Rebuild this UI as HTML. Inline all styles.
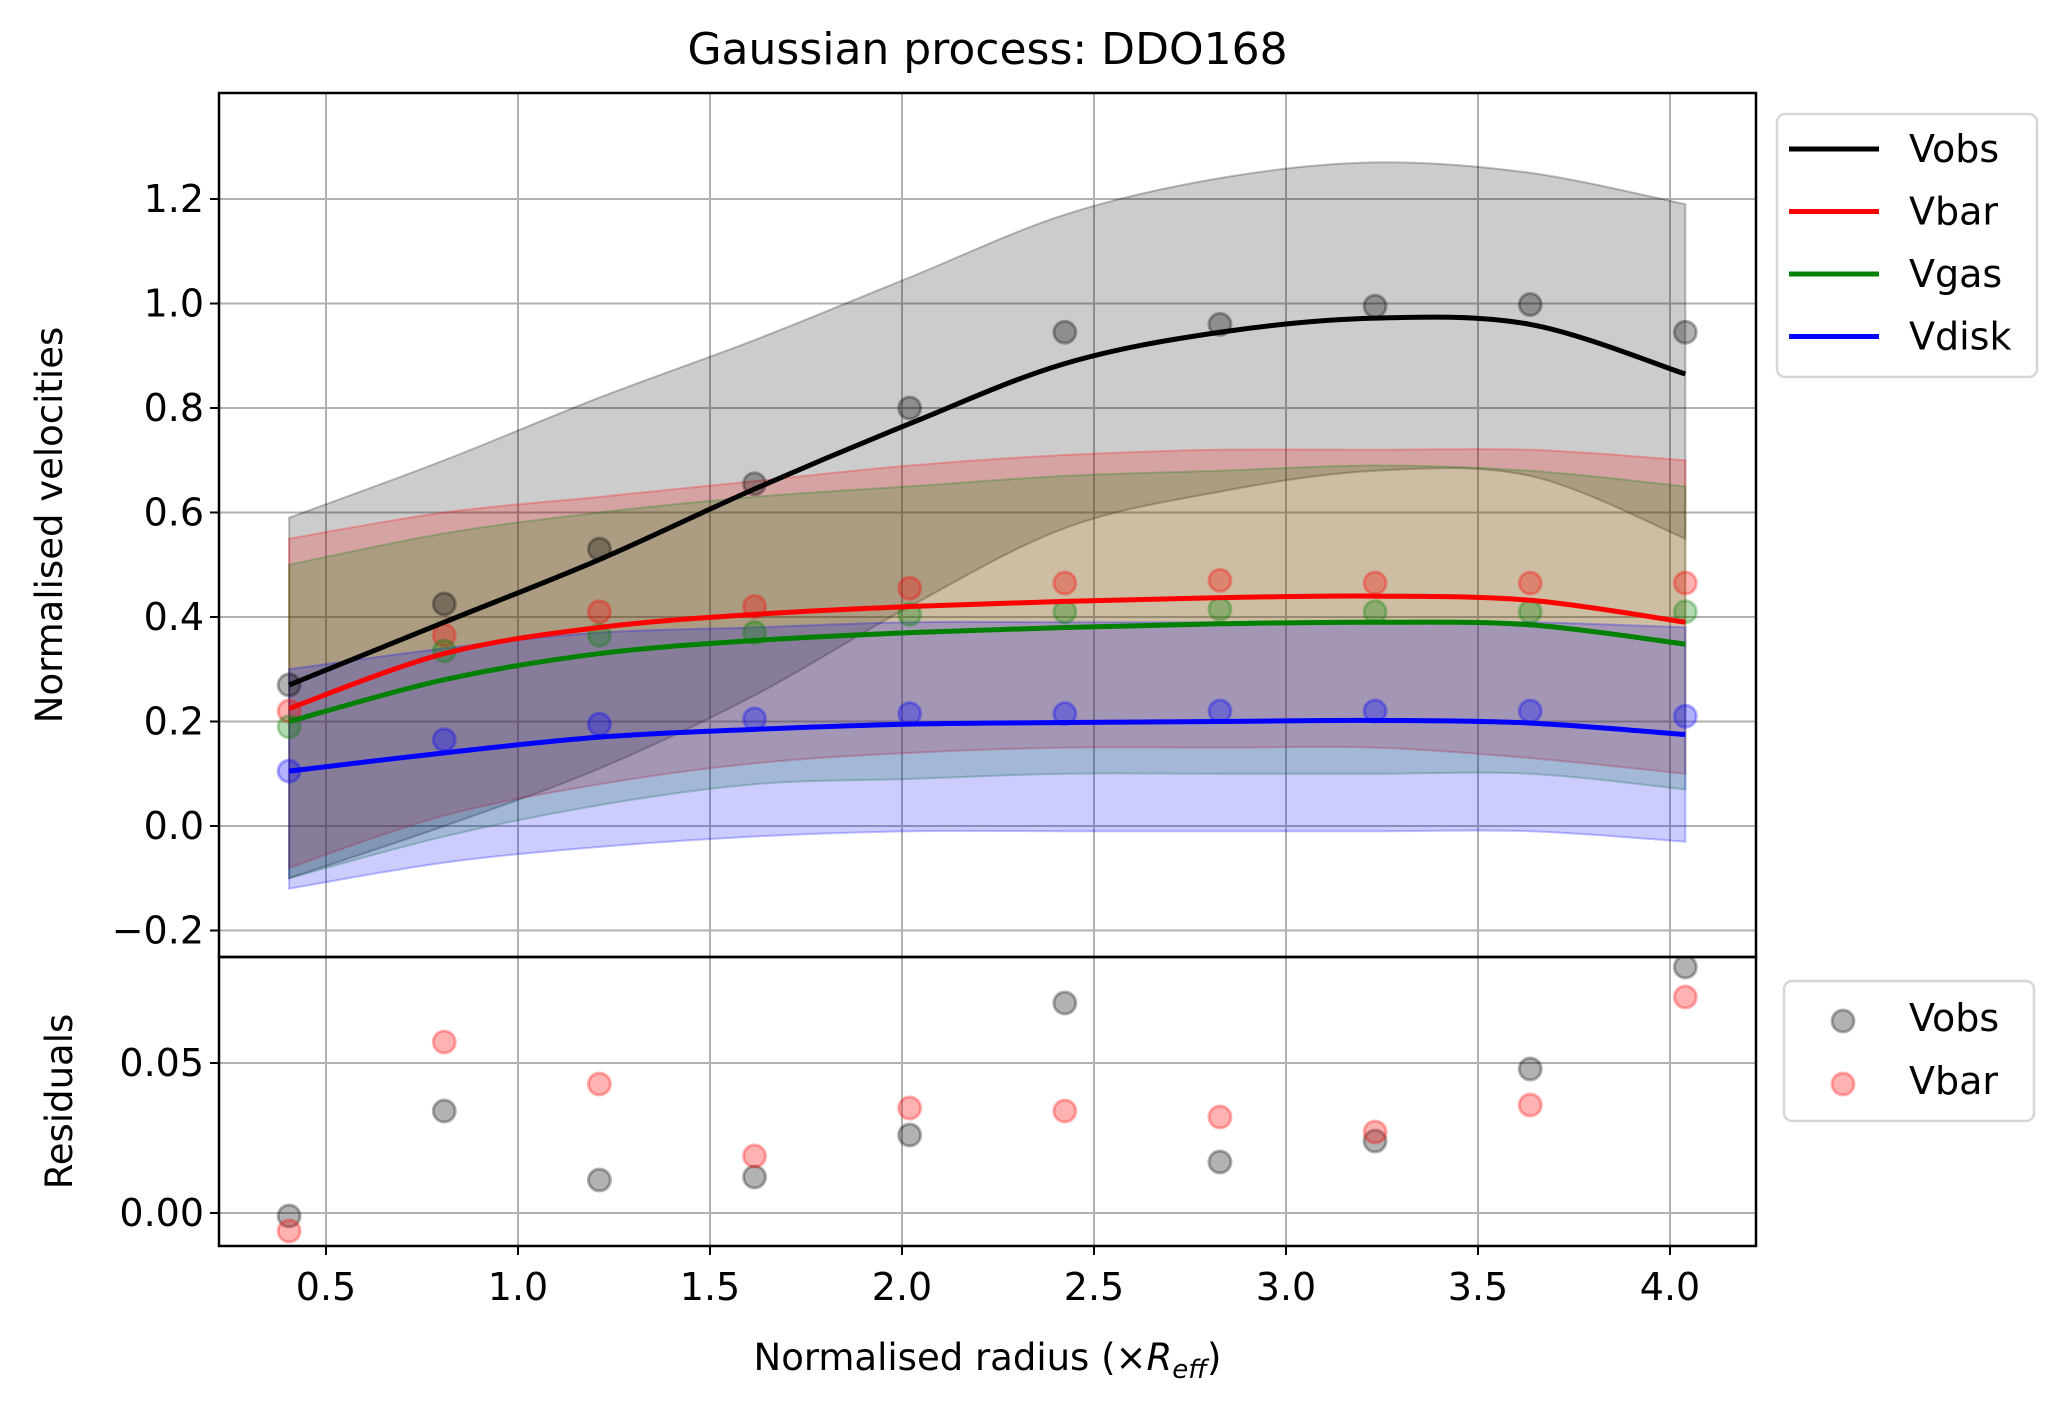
<!DOCTYPE html>
<html><head><meta charset="utf-8"><style>
body{margin:0;background:#fff}
svg text{font-family:"DejaVu Sans","Liberation Sans",sans-serif;fill:#000}
</style></head><body>
<svg id="c" width="2067" height="1406" xmlns="http://www.w3.org/2000/svg"></svg>
<script>
const xs=[0.404,0.808,1.212,1.616,2.02,2.424,2.828,3.232,3.636,4.04];
const obsPts=[0.27,0.425,0.53,0.655,0.80,0.945,0.96,0.995,0.998,0.945];
const barPts=[0.22,0.365,0.41,0.42,0.455,0.465,0.47,0.465,0.465,0.465];
const gasPts=[0.19,0.335,0.365,0.37,0.405,0.41,0.415,0.41,0.41,0.41];
const diskPts=[0.105,0.165,0.195,0.205,0.215,0.215,0.22,0.22,0.22,0.21];
const obsFit=[0.27,0.39,0.51,0.645,0.77,0.885,0.945,0.972,0.96,0.865];
const barFit=[0.225,0.33,0.38,0.405,0.42,0.43,0.437,0.44,0.432,0.39];
const gasFit=[0.2,0.28,0.33,0.355,0.37,0.38,0.387,0.39,0.385,0.348];
const diskFit=[0.105,0.14,0.17,0.185,0.195,0.198,0.2,0.202,0.197,0.175];
const obsHi=[0.59,0.70,0.82,0.93,1.05,1.17,1.24,1.27,1.25,1.19];
const obsLo=[-0.1,0.0,0.11,0.25,0.42,0.57,0.64,0.68,0.67,0.55];
const barHi=[0.55,0.6,0.63,0.66,0.69,0.71,0.72,0.72,0.72,0.70];
const barLo=[-0.08,0.02,0.08,0.12,0.14,0.15,0.15,0.15,0.13,0.10];
const gasHi=[0.5,0.56,0.6,0.63,0.65,0.67,0.68,0.69,0.68,0.65];
const gasLo=[-0.1,-0.02,0.04,0.08,0.09,0.1,0.1,0.1,0.1,0.07];
const diskHi=[0.3,0.34,0.37,0.38,0.39,0.39,0.39,0.39,0.39,0.38];
const diskLo=[-0.12,-0.07,-0.04,-0.02,-0.01,-0.01,-0.01,-0.01,-0.01,-0.03];
const resObs=[-0.001,0.034,0.011,0.012,0.026,0.070,0.017,0.024,0.048,0.082];
const resBar=[-0.006,0.057,0.043,0.019,0.035,0.034,0.032,0.027,0.036,0.072];
const xTicks=[0.5,1.0,1.5,2.0,2.5,3.0,3.5,4.0];
const yTicks=[-0.2,0.0,0.2,0.4,0.6,0.8,1.0,1.2];
const rTicks=[0.00,0.05];

const L=219,R=1756,T=93,M=957,B=1246;
const X=v=>326+(v-0.5)*384;
const Y=v=>826-v*522.5;
const RY=v=>1213-v*3000;
const svg=document.getElementById('c');
const NS='http://www.w3.org/2000/svg';
function mk(tag,attrs,parent){const e=document.createElementNS(NS,tag);for(const k in attrs)e.setAttribute(k,attrs[k]);(parent||svg).appendChild(e);return e;}
function txt(s,x,y,size,anchor,parent){const t=mk('text',{x:x,y:y,'font-size':size,'text-anchor':anchor||'middle'},parent);t.textContent=s;return t;}
function smooth(pts){let d='M'+pts[0][0]+','+pts[0][1];for(let i=0;i<pts.length-1;i++){const p0=pts[i-1]||pts[i],p1=pts[i],p2=pts[i+1],p3=pts[i+2]||p2;d+=' C'+(p1[0]+(p2[0]-p0[0])/6)+','+(p1[1]+(p2[1]-p0[1])/6)+' '+(p2[0]-(p3[0]-p1[0])/6)+','+(p2[1]-(p3[1]-p1[1])/6)+' '+p2[0]+','+p2[1];}return d;}

const defs=mk('defs',{});
const cp=mk('clipPath',{id:'mc'},defs);mk('rect',{x:L,y:T,width:R-L,height:M-T},cp);
const cp2=mk('clipPath',{id:'rc'},defs);mk('rect',{x:L,y:M,width:R-L,height:B-M},cp2);

const g=mk('g',{});


xTicks.forEach(v=>{mk('line',{x1:X(v),x2:X(v),y1:T,y2:M,stroke:'#b0b0b0','stroke-width':2},g);mk('line',{x1:X(v),x2:X(v),y1:M,y2:B,stroke:'#b0b0b0','stroke-width':2},g);});
yTicks.forEach(v=>mk('line',{x1:L,x2:R,y1:Y(v),y2:Y(v),stroke:'#b0b0b0','stroke-width':2},g));
rTicks.forEach(v=>mk('line',{x1:L,x2:R,y1:RY(v),y2:RY(v),stroke:'#b0b0b0','stroke-width':2},g));

const main=mk('g',{'clip-path':'url(#mc)'});
const bands=[['obs',obsHi,obsLo,'#000000'],['bar',barHi,barLo,'#ff0000'],['gas',gasHi,gasLo,'#008000'],['disk',diskHi,diskLo,'#0000ff']];
bands.forEach(b=>{
  const hi=xs.map((x,i)=>[X(x),Y(b[1][i])]);
  const lo=xs.map((x,i)=>[X(x),Y(b[2][i])]).reverse();
  const d=smooth(hi)+' L'+smooth(lo).slice(1)+' Z';
  const p=mk('path',{d:d,fill:b[3],'fill-opacity':0.2,stroke:b[3],'stroke-opacity':0.25,'stroke-width':2},main);
  
  
});
const pts=[['obs',obsPts,'#000000'],['bar',barPts,'#ff0000'],['gas',gasPts,'#008000'],['disk',diskPts,'#0000ff']];
pts.forEach(s=>s[1].forEach((v,i)=>{
  const c=mk('circle',{cx:X(xs[i]),cy:Y(v),r:11,fill:s[2],'fill-opacity':0.3,stroke:s[2],'stroke-opacity':0.3,'stroke-width':3},main);
  
  
}));
const fits=[['obs',obsFit,'#000000'],['bar',barFit,'#ff0000'],['gas',gasFit,'#008000'],['disk',diskFit,'#0000ff']];
fits.forEach(f=>{
  const p=mk('path',{d:smooth(xs.map((x,i)=>[X(x),Y(f[1][i])])),fill:'none',stroke:f[2],'stroke-width':5},main);
  
  
});
const res=mk('g',{'clip-path':'url(#rc)'});
[['obs',resObs,'#000000'],['bar',resBar,'#ff0000']].forEach(s=>s[1].forEach((v,i)=>{
  const c=mk('circle',{cx:X(xs[i]),cy:RY(v),r:11,fill:s[2],'fill-opacity':0.3,stroke:s[2],'stroke-opacity':0.3,'stroke-width':3},res);
  
  
}));

mk('rect',{x:L,y:T,width:R-L,height:M-T,fill:'none',stroke:'#000','stroke-width':2.5});
mk('rect',{x:L,y:M,width:R-L,height:B-M,fill:'none',stroke:'#000','stroke-width':2.5});
yTicks.forEach(v=>{mk('line',{x1:L-9,x2:L,y1:Y(v),y2:Y(v),stroke:'#000','stroke-width':2});
  const t=txt((v<0?'\u2212':'')+Math.abs(v).toFixed(1),L-15,Y(v)+13,38,'end');
  
  });
rTicks.forEach(v=>{mk('line',{x1:L-9,x2:L,y1:RY(v),y2:RY(v),stroke:'#000','stroke-width':2});
  const t=txt(v.toFixed(2),L-15,RY(v)+13,38,'end');
  
  });
xTicks.forEach(v=>{mk('line',{x1:X(v),x2:X(v),y1:B,y2:B+9,stroke:'#000','stroke-width':2});
  const t=txt(v.toFixed(1),X(v),B+54,38);
  
  });

const title=txt('Gaussian process: DDO168',(L+R)/2,64,44);


const xl=mk('text',{x:(L+R)/2,y:1370,'font-size':37,'text-anchor':'middle'});
xl.innerHTML='Normalised radius (×<tspan font-style="italic">R</tspan><tspan font-style="italic" font-size="26" dy="8">eff</tspan><tspan dy="-8">)</tspan>';


const yl=txt('Normalised velocities',0,0,37);
yl.setAttribute('transform','translate(62,'+((T+M)/2)+') rotate(-90)');


const rl=txt('Residuals',0,0,37);
rl.setAttribute('transform','translate(72,'+((M+B)/2)+') rotate(-90)');



const lg=mk('g',{});


mk('rect',{x:1777,y:114,width:260,height:263,rx:8,fill:'#fff',stroke:'#d6d6d6','stroke-width':2.5},lg);
[['Vobs','#000'],['Vbar','#f00'],['Vgas','#008000'],['Vdisk','#00f']].forEach((e,i)=>{
  const y=149+i*62.5;
  const ln=mk('line',{x1:1789,x2:1879,y1:y,y2:y,stroke:e[1],'stroke-width':5},lg);
  
  
  const t=txt(e[0],1909,y+13,38,'start',lg);
  
  
});
const lg2=mk('g',{});


mk('rect',{x:1784,y:981,width:250,height:140,rx:8,fill:'#fff',stroke:'#d6d6d6','stroke-width':2.5},lg2);
[['Vobs','#000'],['Vbar','#f00']].forEach((e,i)=>{
  const y=1018+i*63;
  mk('circle',{cx:1843,cy:y+3,r:11,fill:e[1],'fill-opacity':0.3,stroke:e[1],'stroke-opacity':0.3,'stroke-width':3},lg2);
  const t=txt(e[0],1909,y+13,38,'start',lg2);
  
  
});
</script>
</body></html>
